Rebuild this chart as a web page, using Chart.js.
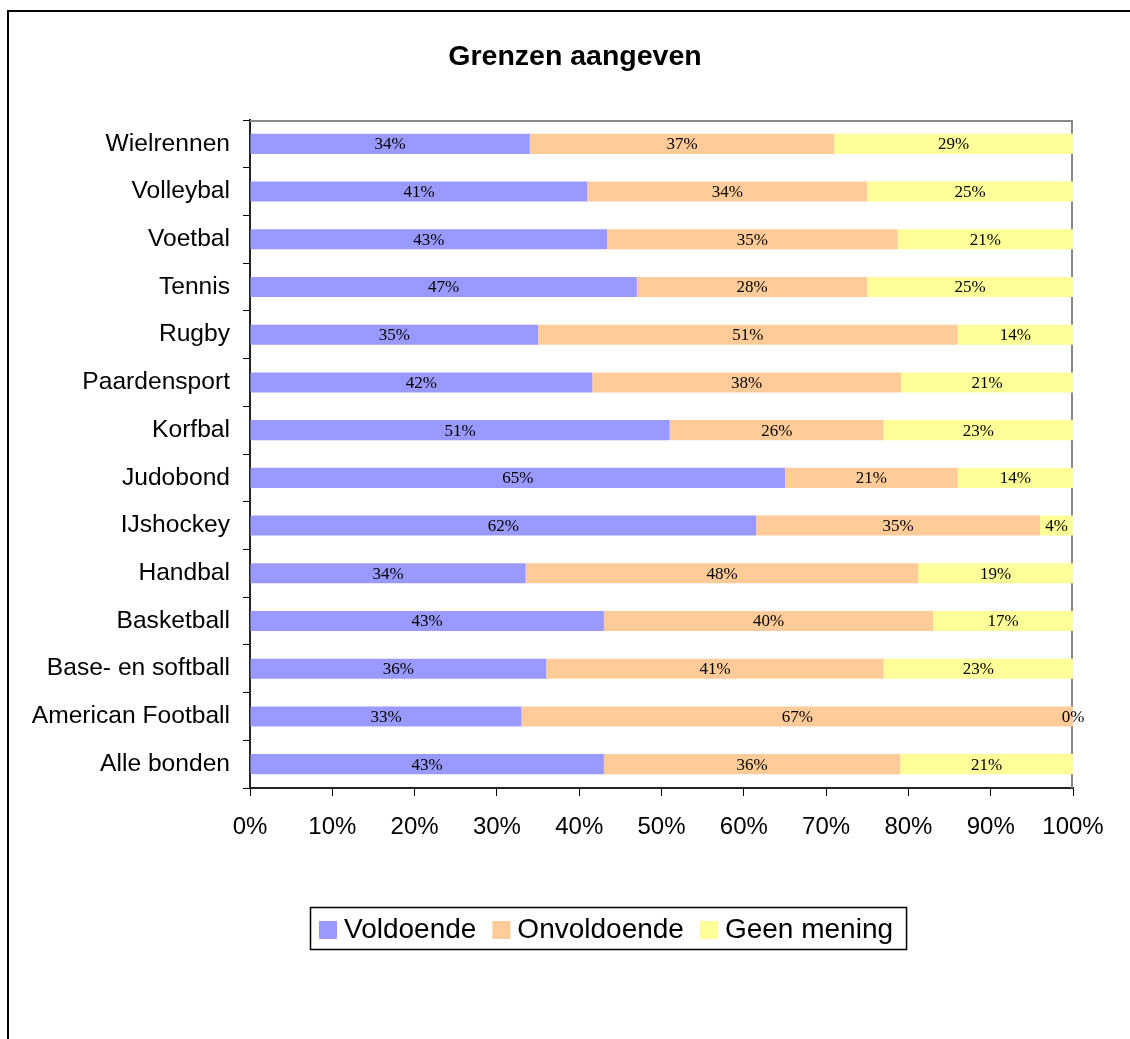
<!DOCTYPE html>
<html>
<head>
<meta charset="utf-8">
<script src="https://cdn.jsdelivr.net/npm/chart.js@4/dist/chart.umd.min.js"></script>
<style>
  html, body { margin: 0; padding: 0; background: #fff; overflow: hidden; }
  #wrap { position: absolute; left: 0; top: 0; width: 1130px; height: 1039px; }
</style>
</head>
<body>
<div id="wrap"><canvas id="c" width="1130" height="1039"></canvas></div>
<script>
const titleText = 'Grenzen aangeven';
const categories = ['Wielrennen', 'Volleybal', 'Voetbal', 'Tennis', 'Rugby', 'Paardensport', 'Korfbal', 'Judobond', 'IJshockey', 'Handbal', 'Basketball', 'Base- en softball', 'American Football', 'Alle bonden'];
const seriesNames = ['Voldoende', 'Onvoldoende', 'Geen mening'];
const voldoende   = [34, 41, 43.4, 47, 35, 41.6, 51, 65, 61.5, 33.5, 43, 36, 33, 43];
const onvoldoende = [37, 34, 35.3, 28, 51, 37.5, 26, 21, 34.5, 47.7, 40, 41, 67, 36];
const geenMening  = [29, 25, 21.3, 25, 14, 20.9, 23, 14, 4, 18.8, 17, 23, 0, 21];
const seriesColors = ['#9999FF', '#FFCC99', '#FFFF99'];
const xTickStep = 10;

const SANS = '"Liberation Sans", Arial, sans-serif';
const SERIF = '"Liberation Serif", "Times New Roman", serif';

const decorPlugin = {
  id: 'decor',
  beforeDraw(chart) {
    const ctx = chart.ctx;
    ctx.save();
    ctx.fillStyle = '#fff';
    ctx.fillRect(0, 0, chart.width, chart.height);
    // outer frame (top + left visible)
    ctx.fillStyle = '#000';
    ctx.fillRect(7, 10, 2, chart.height - 10);
    ctx.fillRect(7, 10, chart.width - 7, 2);
    // title
    ctx.font = 'bold 28.5px ' + SANS;
    ctx.textAlign = 'center';
    ctx.textBaseline = 'alphabetic';
    ctx.fillText(titleText, 575, 65);
    ctx.restore();
  },
  beforeDatasetsDraw(chart) {
    const a = chart.chartArea;
    const ctx = chart.ctx;
    ctx.save();
    ctx.strokeStyle = '#888';
    ctx.lineWidth = 2;
    ctx.beginPath();
    ctx.moveTo(a.left, a.top + 1);
    ctx.lineTo(a.right - 1, a.top + 1);
    ctx.lineTo(a.right - 1, a.bottom);
    ctx.stroke();
    ctx.restore();
  },
  afterDatasetsDraw(chart) {
    const ctx = chart.ctx;
    ctx.save();
    ctx.font = '17px ' + SERIF;
    ctx.fillStyle = '#000';
    ctx.textAlign = 'center';
    ctx.textBaseline = 'middle';
    chart.data.datasets.forEach((ds, di) => {
      const meta = chart.getDatasetMeta(di);
      meta.data.forEach((el, i) => {
        const v = ds.data[i];
        const cx = (el.x + el.base) / 2;
        ctx.fillText(Math.round(v) + '%', cx, el.y + 1);
      });
    });
    ctx.restore();
  },
  afterDraw(chart) {
    // legend with border
    const ctx = chart.ctx;
    ctx.save();
    ctx.font = '28px ' + SANS;
    const sq = 18, padL = 9, padR = 13, gapT = 7, gapItem = 16;
    const widths = chart.data.datasets.map(d => ctx.measureText(d.label).width);
    let total = padL + padR;
    widths.forEach((w, i) => { total += sq + gapT + w + (i < widths.length - 1 ? gapItem : 0); });
    const top = chart.chartArea.bottom + 119;
    const h = 42;
    const left = Math.round(608.5 - total / 2);
    ctx.fillStyle = '#fff';
    ctx.fillRect(left, top, total, h);
    ctx.strokeStyle = '#000';
    ctx.lineWidth = 1.5;
    ctx.strokeRect(left + 0.5, top + 0.5, total, h);
    let x = left + padL;
    ctx.textBaseline = 'alphabetic';
    ctx.textAlign = 'left';
    chart.data.datasets.forEach((d, i) => {
      ctx.fillStyle = d.backgroundColor;
      ctx.fillRect(x, top + 14, sq, sq);
      x += sq + gapT;
      ctx.fillStyle = '#000';
      ctx.fillText(d.label, x, top + 31);
      x += widths[i] + gapItem;
    });
    ctx.restore();
  }
};

const seriesData = [voldoende, onvoldoende, geenMening];

new Chart(document.getElementById('c'), {
  type: 'bar',
  data: {
    labels: categories,
    datasets: seriesNames.map((name, i) => ({
      label: name,
      data: seriesData[i],
      backgroundColor: seriesColors[i],
      borderWidth: 0,
      barPercentage: 0.42,
      categoryPercentage: 1.0
    }))
  },
  options: {
    indexAxis: 'y',
    responsive: false,
    animation: false,
    devicePixelRatio: 1,
    layout: { padding: { left: 10, right: 57, top: 120, bottom: 191 } },
    plugins: {
      legend: { display: false },
      title: { display: false },
      tooltip: { enabled: false }
    },
    scales: {
      x: {
        stacked: true,
        min: 0,
        max: 100,
        ticks: {
          stepSize: xTickStep,
          callback: v => v + '%',
          color: '#000',
          font: { family: SANS, size: 24 },
          padding: 17,
          maxRotation: 0
        },
        grid: { drawOnChartArea: false, tickLength: 8, color: '#000', tickColor: '#000', tickWidth: 1 },
        border: { display: true, color: '#222', width: 2 },
        afterFit(scale) { scale.height = 60; }
      },
      y: {
        stacked: true,
        ticks: {
          color: '#000',
          font: { family: SANS, size: 24.6 },
          padding: 13,
          autoSkip: false
        },
        grid: { drawOnChartArea: false, tickLength: 7, color: '#000', tickColor: '#000', tickWidth: 1, offset: true },
        border: { display: true, color: '#222', width: 2 },
        afterFit(scale) { scale.width = 240; }
      }
    }
  },
  plugins: [decorPlugin]
});
</script>
</body>
</html>
